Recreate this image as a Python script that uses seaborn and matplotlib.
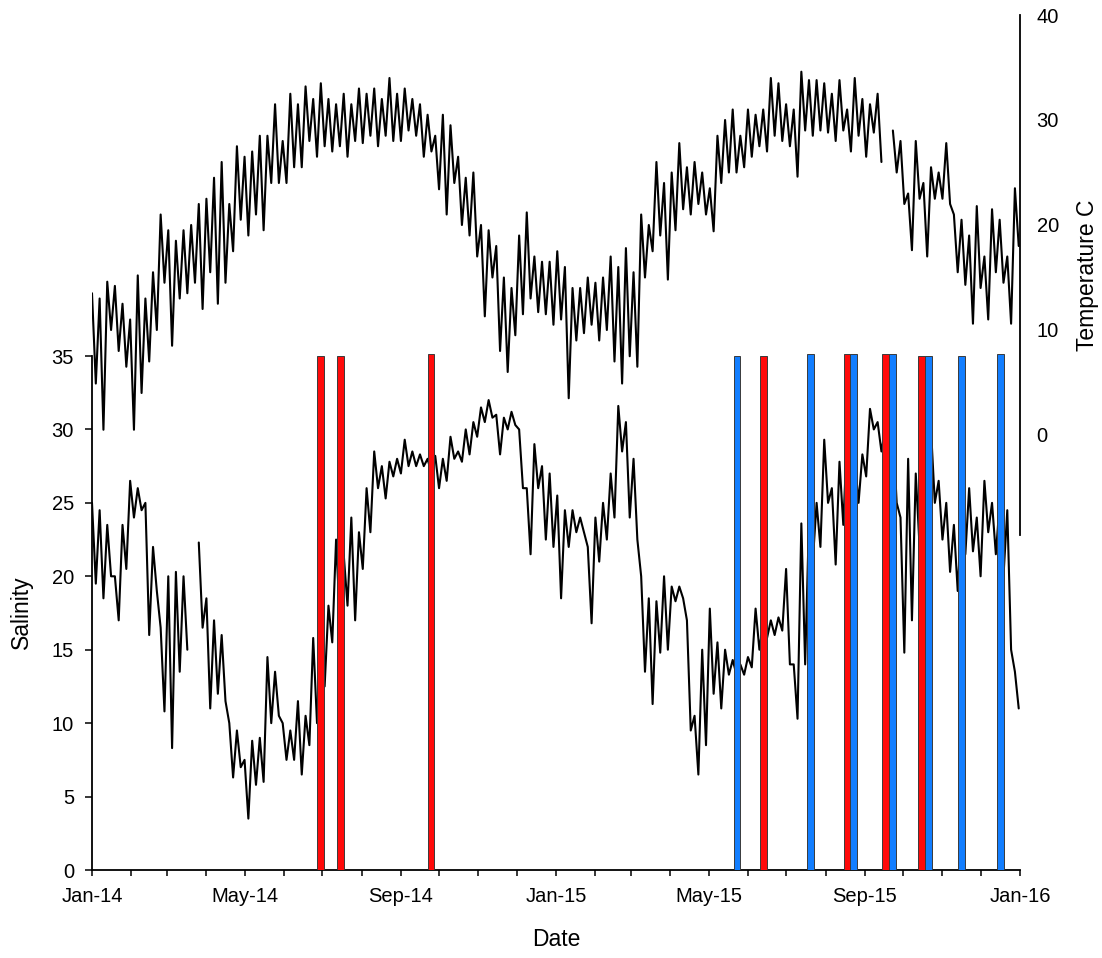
import numpy as np
import pandas as pd
import matplotlib
matplotlib.use("Agg")
import matplotlib.pyplot as plt
import matplotlib.dates as mdates
import seaborn as sns

# ---------------- data ----------------
# samples every 6 days from 2014-01-01; "hi" = top of the noisy trace, "lo" = bottom (3 days later)
sample_start = "2014-01-01"
sample_step_days = 6

temp_hi = [13.5, 13, 14.6, 14.2, 12.5, 11, 15.2, 13, 15.5, 21,
           19.5, 18.5, 19.5, 20, 22, 22.5, 24.5, 26, 22, 27.5,
           26.5, 27, 28.5, 28.5, 31.5, 28, 32.5, 31.5, 33.2, 32,
           33.5, 32, 31.5, 32.5, 31.5, 33, 32.5, 33, 32, 34,
           32.5, 33, 32, 31.5, 30.5, 28.5, 30.5, 29.5, 26.5, 24.5,
           25, 20, 19.5, 18, 15, 14, 19, 21.2, 17, 16.5,
           16.5, 17.5, 16, 14, 14, 15, 14.5, 15, 17, 16,
           17.8, 15.5, 21, 20, 26, 24, 25, 27.8, 25.5, 26,
           25, 23.5, 28.5, 30, 31, 28.5, 31, 30.5, 31, 34,
           33.5, 31.5, 31, 34.6, 33.8, 33.8, 33.5, 32.5, 33.8, 31,
           34, 32, 31.5, 32.5, np.nan, 29, 28, 23, 28, 24,
           25.5, 25, 27.8, 21, 20.5, 19, 21.8, 17, 21.5, 20.5,
           17, 23.5]
temp_lo = [4.9, 0.5, 10, 8, 6.5, 0.5, 4, 7, 10, 14.5,
           8.5, 13, 13.5, 14.5, 12, 15.5, 12.5, 14.5, 17.5, 20.5,
           19, 21, 19.5, 24, 24, 24, 25.5, 25.5, 28, 26.5,
           27.5, 27, 27.5, 26.5, 28, 27.8, 28.5, 27.5, 28.5, 28,
           28, 29, 28.5, 26.5, 27, 23.4, 21, 24, 20, 19,
           17, 11.3, 15, 8, 6, 9.5, 11.5, 13, 11.7, 11.5,
           10.5, 11, 3.5, 9, 9.7, 10.5, 9, 10, 7, 4.9,
           7.5, 6.5, 15, 17.5, 19, 14.8, 19.5, 21.5, 21, 22,
           21, 19.4, 24, 25, 25, 25.5, 26.5, 27.5, 27, 28.5,
           28, 27.5, 24.6, 29, 28.5, 29, 28.8, 28, 29, 27,
           28.5, 26.5, 28.8, 26, np.nan, 25, 22, 17.6, 22.5, 17,
           22.5, 22.5, 22, 15.5, 14.3, 10.6, 14, 11, 15.5, 14.5,
           10.6, 18]

sal_hi = [25, 24.5, 23.5, 20, 23.5, 26.5, 26, 25, 22, 16.5,
          20, 20.3, 20, np.nan, 22.3, 18.5, 17, 16, 10, 9.5,
          7.5, 8.8, 9, 14.5, 13.5, 10, 9.5, 11.5, 10.5, 15.8,
          15, 18, 22.5, 21.5, 24, 23, 26, 28.5, 27.5, 27.8,
          28, 29.3, 28.5, 28.3, 28, 28.2, 28, 29.5, 28.5, 30,
          30.5, 31.5, 32, 31, 30.8, 31.2, 30, 26, 29, 27.5,
          27, 25.5, 24.5, 24.5, 24, 22, 24, 25, 27, 31.6,
          30.5, 28, 20, 18.5, 18.3, 20, 19.3, 19.3, 17, 10.5,
          15, 17.8, 15.5, 15, 14.3, 14, 14.5, 17.8, 16.8, 17,
          17.2, 20.5, 14, 23.6, 23.8, 25, 29.3, 26, 27.8, 29.6,
          28, 28.3, 31.4, 30.5, 30, 30, 24, 28, 27, 29,
          30, 26.5, 25, 23.5, 24, 26, 24, 26.5, 25, 25,
          24.5, 13.5]
sal_lo = [19.5, 18.5, 20, 17, 20.5, 24, 24.5, 16, 19, 10.8,
          8.3, 13.5, 15, np.nan, 16.5, 11, 12, 11.5, 6.3, 7,
          3.5, 5.8, 6, 10, 10.5, 7.5, 7.5, 6.5, 8.5, 10,
          12.5, 15.5, 17, 18, 17, 20.5, 23, 26, 25.3, 26.8,
          27, 27.5, 27.5, 27.5, 27, 26, 26.5, 28, 27.8, 28.3,
          29.5, 30.5, 30.8, 28.3, 30, 30.3, 26, 21.5, 26, 22.5,
          22, 18.5, 22, 23, 23, 16.8, 21, 22.5, 24, 28.5,
          24, 22.5, 13.5, 11.3, 14.8, 15, 18.3, 18.5, 9.5, 6.5,
          8.5, 12, 11, 13.3, 13.3, 13.3, 13.8, 15, 15.8, 16,
          16.3, 14, 10.3, 14, 21, 22, 25, 20.8, 23.5, 24.6,
          25, 26.8, 30, 28.5, 27, 25, 14.8, 17, 22, 24,
          25, 22.5, 20.3, 19, 21.5, 21.7, 20, 23, 21.5, 20,
          15, 11]

# sampling events (bars)
bar_dates = ["2014-06-30 00:00", "2014-07-15 12:00", "2014-09-24 14:00",
             "2015-05-23 10:00", "2015-06-13 05:00", "2015-07-20 07:00",
             "2015-08-17 22:00", "2015-08-23 07:00", "2015-09-17 05:00",
             "2015-09-22 10:00", "2015-10-15 17:00", "2015-10-21 00:00",
             "2015-11-15 22:00", "2015-12-16 12:00"]
bar_kind = ["red", "red", "red", "blue", "red", "blue", "red", "blue",
            "red", "blue", "red", "blue", "blue", "blue"]
bar_height = [35, 35, 35.15, 35, 35, 35.15, 35.15, 35.15, 35.15, 35.15,
              35, 35, 35, 35.15]

sal_ticks = [0, 5, 10, 15, 20, 25, 30, 35]
temp_ticks = [0, 10, 20, 30, 40]

# ---------------- build tables ----------------
def zigzag(hi, lo):
    base = pd.date_range(sample_start, periods=len(hi), freq=f"{sample_step_days}D")
    half = pd.Timedelta(days=sample_step_days / 2)
    times, vals = [], []
    for t, h, l in zip(base, hi, lo):
        times += [t, t + half]
        vals += [h, l]
    df = pd.DataFrame({"time": times, "value": vals})
    df["seg"] = df["value"].isna().cumsum()
    return df.dropna()

temp_df = zigzag(temp_hi, temp_lo)
sal_df = zigzag(sal_hi, sal_lo)

bars = pd.DataFrame({"date": pd.to_datetime(bar_dates), "kind": bar_kind, "height": bar_height})
palette = {"red": "#FF0A0A", "blue": "#127EFF"}

# ---------------- plot ----------------
sns.set_theme(style="ticks")
plt.rcParams["font.family"] = ["Liberation Sans", "DejaVu Sans"]
plt.rcParams["text.color"] = "black"
plt.rcParams["axes.labelcolor"] = "black"
plt.rcParams["xtick.color"] = "black"
plt.rcParams["ytick.color"] = "black"

fig = plt.figure(figsize=(11.02, 9.58), dpi=100)
ax = fig.add_axes([92 / 1102, 88 / 958, 928 / 1102, 855 / 958])

sns.lineplot(data=sal_df, x="time", y="value", units="seg", estimator=None,
             sort=False, color="black", linewidth=1.5, ax=ax, zorder=2)

ax.bar(bars["date"], bars["height"], width=5.3,
       color=[palette[k] for k in bars["kind"]],
       edgecolor="#3a3a3a", linewidth=0.7, zorder=3)

ax.set_xlim(pd.Timestamp("2014-01-01"), pd.Timestamp("2016-01-01"))
ax.set_ylim(0, 58.22)
ax.set_yticks(sal_ticks)
ax.spines["left"].set_bounds(0, 35)
for s in ["top", "right"]:
    ax.spines[s].set_visible(False)
for s in ["left", "bottom"]:
    ax.spines[s].set_color("black")
    ax.spines[s].set_linewidth(1.3)

ax.xaxis.set_major_locator(mdates.MonthLocator(bymonth=[1, 5, 9]))
ax.xaxis.set_major_formatter(mdates.DateFormatter("%b-%y"))
ax.xaxis.set_minor_locator(mdates.MonthLocator())
ax.tick_params(axis="x", which="both", direction="out", length=4.5, width=1.1,
               color="black", labelcolor="black", labelsize=14.5, pad=8)
ax.tick_params(axis="y", direction="out", length=5, width=1.1, color="black",
               labelcolor="black", labelsize=14.5, pad=8)

ax.set_xlabel("Date", fontsize=16.5, color="black")
ax.xaxis.set_label_coords(0.5, -0.068)
ax.set_ylabel("Salinity", fontsize=16.5, color="black")
ax.yaxis.set_label_coords(-0.064, 0.302)

# temperature on the right axis
ax2 = ax.twinx()
sns.lineplot(data=temp_df, x="time", y="value", units="seg", estimator=None,
             sort=False, color="black", linewidth=1.5, ax=ax2)
ax2.set_xlim(pd.Timestamp("2014-01-01"), pd.Timestamp("2016-01-01"))
ax2.set_ylim(-41.43, 40)
ax2.set_yticks(temp_ticks)
for s in ["top", "left", "bottom"]:
    ax2.spines[s].set_visible(False)
ax2.spines["right"].set_bounds(-9.5, 40)
ax2.spines["right"].set_color("black")
ax2.spines["right"].set_linewidth(1.3)
ax2.tick_params(axis="y", length=0, labelsize=14.5, labelcolor="black", pad=12)
ax2.set_xlabel("")
ax2.set_ylabel("Temperature C", fontsize=16.5, color="black")
ax2.yaxis.set_label_coords(1.060, 0.696)

fig.savefig("out.png", dpi=100)
